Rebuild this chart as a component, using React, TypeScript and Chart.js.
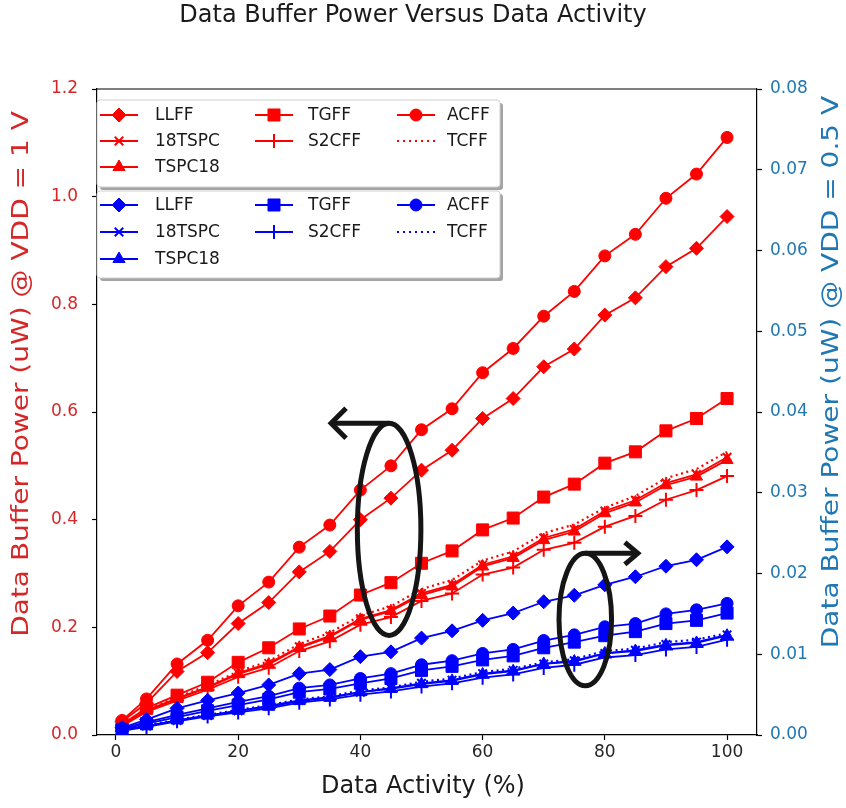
import { useEffect, useRef } from 'react';
import { Chart, registerables } from 'chart.js';
import { drawPoint } from 'chart.js/helpers';

Chart.register(...registerables);

// Data activity (%) at which each flip-flop was simulated
const ACTIVITY = [1, 5, 10, 15, 20, 25, 30, 35, 40, 45, 50, 55, 60, 65, 70, 75, 80, 85, 90, 95, 100];

// Data buffer power (uW) at VDD = 1 V (left axis)
const LLFF_1V = [0.025, 0.059, 0.118, 0.153, 0.207, 0.246, 0.303, 0.341, 0.400, 0.440, 0.492, 0.529, 0.588, 0.625, 0.684, 0.717, 0.780, 0.812, 0.870, 0.904, 0.963];
const TSPC_18_1V = [0.018, 0.046, 0.068, 0.089, 0.115, 0.133, 0.164, 0.184, 0.216, 0.232, 0.263, 0.279, 0.316, 0.332, 0.366, 0.382, 0.416, 0.436, 0.468, 0.484, 0.516];
const TSPC18_1V = [0.018, 0.045, 0.067, 0.088, 0.113, 0.131, 0.162, 0.182, 0.214, 0.230, 0.260, 0.276, 0.313, 0.329, 0.362, 0.378, 0.412, 0.432, 0.464, 0.480, 0.511];
const TGFF_1V = [0.020, 0.050, 0.074, 0.098, 0.135, 0.162, 0.197, 0.221, 0.260, 0.283, 0.319, 0.342, 0.381, 0.403, 0.442, 0.466, 0.505, 0.526, 0.565, 0.588, 0.625];
const S2CFF_1V = [0.017, 0.043, 0.064, 0.084, 0.108, 0.125, 0.156, 0.174, 0.205, 0.219, 0.249, 0.263, 0.298, 0.311, 0.344, 0.357, 0.387, 0.407, 0.437, 0.455, 0.481];
const ACFF_1V = [0.027, 0.067, 0.132, 0.176, 0.240, 0.284, 0.349, 0.390, 0.455, 0.500, 0.567, 0.606, 0.673, 0.718, 0.778, 0.824, 0.890, 0.930, 0.997, 1.042, 1.110];
const TCFF_1V = [0.019, 0.047, 0.070, 0.092, 0.118, 0.137, 0.169, 0.190, 0.222, 0.239, 0.271, 0.288, 0.324, 0.341, 0.375, 0.391, 0.422, 0.444, 0.477, 0.494, 0.526];

// Data buffer power (uW) at VDD = 0.5 V (right axis)
const LLFF_05V = [0.0009, 0.0019, 0.0033, 0.0043, 0.0052, 0.0062, 0.0076, 0.0081, 0.0097, 0.0103, 0.0120, 0.0129, 0.0142, 0.0151, 0.0165, 0.0173, 0.0186, 0.0196, 0.0209, 0.0217, 0.0233];
const TSPC_18_05V = [0.0006, 0.0011, 0.0018, 0.0024, 0.0030, 0.0036, 0.0043, 0.0047, 0.0053, 0.0058, 0.0064, 0.0068, 0.0076, 0.0080, 0.0088, 0.0092, 0.0101, 0.0105, 0.0112, 0.0115, 0.0124];
const TSPC18_05V = [0.0006, 0.0011, 0.0018, 0.0024, 0.0030, 0.0035, 0.0042, 0.0046, 0.0053, 0.0057, 0.0063, 0.0067, 0.0075, 0.0079, 0.0088, 0.0091, 0.0101, 0.0104, 0.0111, 0.0114, 0.0123];
const TGFF_05V = [0.0007, 0.0014, 0.0022, 0.0030, 0.0037, 0.0044, 0.0053, 0.0057, 0.0064, 0.0070, 0.0080, 0.0085, 0.0093, 0.0098, 0.0108, 0.0115, 0.0123, 0.0128, 0.0138, 0.0142, 0.0151];
const S2CFF_05V = [0.0005, 0.0010, 0.0017, 0.0023, 0.0028, 0.0033, 0.0040, 0.0044, 0.0050, 0.0054, 0.0060, 0.0064, 0.0071, 0.0075, 0.0083, 0.0087, 0.0096, 0.0099, 0.0106, 0.0109, 0.0118];
const ACFF_05V = [0.0008, 0.0016, 0.0025, 0.0033, 0.0041, 0.0048, 0.0058, 0.0062, 0.0070, 0.0076, 0.0087, 0.0092, 0.0101, 0.0106, 0.0117, 0.0124, 0.0134, 0.0138, 0.0150, 0.0155, 0.0163];
const TCFF_05V = [0.0006, 0.0012, 0.0019, 0.0025, 0.0031, 0.0037, 0.0044, 0.0048, 0.0055, 0.0059, 0.0066, 0.0070, 0.0078, 0.0082, 0.0090, 0.0094, 0.0104, 0.0107, 0.0115, 0.0118, 0.0126];

// Tick labels
const X_TICKS = [0, 20, 40, 60, 80, 100];
const LEFT_TICKS = [0, 0.2, 0.4, 0.6, 0.8, 1.0, 1.2];
const RIGHT_TICKS = [0, 0.01, 0.02, 0.03, 0.04, 0.05, 0.06, 0.07, 0.08];

// Series names in legend order (column-major, three columns)
const NAMES = ['LLFF', '18TSPC', 'TSPC18', 'TGFF', 'S2CFF', 'ACFF', 'TCFF'];
const VALUES_1V = [LLFF_1V, TSPC_18_1V, TSPC18_1V, TGFF_1V, S2CFF_1V, ACFF_1V, TCFF_1V];
const VALUES_05V = [LLFF_05V, TSPC_18_05V, TSPC18_05V, TGFF_05V, S2CFF_05V, ACFF_05V, TCFF_05V];

const TITLE = 'Data Buffer Power Versus Data Activity';
const X_TITLE = 'Data Activity (%)';
const LEFT_TITLE = 'Data Buffer Power (uW) @ VDD = 1 V';
const RIGHT_TITLE = 'Data Buffer Power (uW) @ VDD = 0.5 V';

// Ellipse callouts grouping each family, with arrows pointing to its axis
const LEFT_RING = { cx: 44.7, cy: 0.382, rx: 5.2, ry: 0.197, tip: 35.2 };
const RIGHT_RING = { cx: 76.8, cy: 0.0143, rx: 4.3, ry: 0.0082, tip: 85.4 };

const RED = '#ff0000';
const BLUE = '#0000ff';
const LEFT_COLOR = '#d62728';
const RIGHT_COLOR = '#1f77b4';
const FONT = '"DejaVu Sans", sans-serif';

type Marker = { style: any; radius: number; stroke: number; dotted?: boolean };
const MARKERS: Record<string, Marker> = {
  LLFF: { style: 'rectRot', radius: 7, stroke: 1 },
  '18TSPC': { style: 'crossRot', radius: 6, stroke: 2 },
  TSPC18: { style: 'triangle', radius: 7, stroke: 1 },
  TGFF: { style: 'rect', radius: 8.5, stroke: 1 },
  S2CFF: { style: 'cross', radius: 7, stroke: 2 },
  ACFF: { style: 'circle', radius: 6, stroke: 1 },
  TCFF: { style: 'circle', radius: 0, stroke: 0, dotted: true },
};

function makeDataset(name: string, values: number[], color: string, axis: string, order: number) {
  const m = MARKERS[name];
  return {
    label: `${name} (${axis === 'y' ? '1 V' : '0.5 V'})`,
    data: ACTIVITY.map((x, i) => ({ x, y: values[i] })),
    yAxisID: axis,
    borderColor: color,
    backgroundColor: color,
    borderWidth: m.dotted ? 2.2 : 1.8,
    borderDash: m.dotted ? [2, 3.5] : [],
    pointStyle: m.style,
    pointRadius: m.radius,
    pointHoverRadius: m.radius,
    pointBorderWidth: m.stroke,
    pointBackgroundColor: color,
    pointBorderColor: color,
    tension: 0,
    fill: false,
    order,
  };
}

function drawLabel(
  ctx: CanvasRenderingContext2D,
  text: string,
  x: number,
  y: number,
  size: number,
  color: string,
  align: CanvasTextAlign,
  vertical = false,
  squish = 1,
) {
  ctx.save();
  ctx.translate(x, y);
  if (vertical) {
    ctx.rotate(-Math.PI / 2);
    ctx.scale(1, squish);
  } else {
    ctx.scale(squish, 1);
  }
  ctx.font = `${size}px ${FONT}`;
  ctx.fillStyle = color;
  ctx.textAlign = align;
  ctx.textBaseline = 'middle';
  ctx.fillText(text, 0, 0);
  ctx.restore();
}

function roundRect(ctx: CanvasRenderingContext2D, x: number, y: number, w: number, h: number, r: number) {
  ctx.beginPath();
  ctx.moveTo(x + r, y);
  ctx.lineTo(x + w - r, y);
  ctx.quadraticCurveTo(x + w, y, x + w, y + r);
  ctx.lineTo(x + w, y + h - r);
  ctx.quadraticCurveTo(x + w, y + h, x + w - r, y + h);
  ctx.lineTo(x + r, y + h);
  ctx.quadraticCurveTo(x, y + h, x, y + h - r);
  ctx.lineTo(x, y + r);
  ctx.quadraticCurveTo(x, y, x + r, y);
  ctx.closePath();
}

function drawLegendBox(ctx: CanvasRenderingContext2D, top: number, color: string, rows: number[]) {
  const left = 97;
  const w = 403;
  const h = 87;
  ctx.save();
  roundRect(ctx, left + 3, top + 3, w, h, 3);
  ctx.fillStyle = 'rgba(90,90,90,0.55)';
  ctx.fill();
  roundRect(ctx, left, top, w, h, 3);
  ctx.fillStyle = '#ffffff';
  ctx.fill();
  ctx.strokeStyle = '#cfcfcf';
  ctx.lineWidth = 1;
  ctx.stroke();

  const columns = [
    { line: 100, text: 155 },
    { line: 255, text: 308 },
    { line: 397, text: 447 },
  ];
  const perColumn = [3, 2, 2];
  let idx = 0;
  columns.forEach((col, c) => {
    for (let r = 0; r < perColumn[c]; r++) {
      const name = NAMES[idx++];
      const m = MARKERS[name];
      const y = rows[r];
      ctx.save();
      ctx.strokeStyle = color;
      ctx.fillStyle = color;
      ctx.lineWidth = m.dotted ? 2.2 : 1.8;
      ctx.setLineDash(m.dotted ? [2, 4] : []);
      ctx.beginPath();
      ctx.moveTo(col.line, y);
      ctx.lineTo(col.line + 38, y);
      ctx.stroke();
      ctx.setLineDash([]);
      if (!m.dotted) {
        ctx.lineWidth = m.stroke;
        drawPoint(ctx, { pointStyle: m.style, radius: m.radius, rotation: 0, borderWidth: m.stroke } as any, col.line + 19, y);
      }
      ctx.restore();
      drawLabel(ctx, name, col.text, y + 1, 17, '#1a1a1a', 'left');
    }
  });
  ctx.restore();
}

const decorations = {
  id: 'decorations',
  afterDatasetsDraw(chart: any) {
    const ctx: CanvasRenderingContext2D = chart.ctx;
    const { x, y, y1 } = chart.scales;
    ctx.save();
    ctx.strokeStyle = '#151515';
    ctx.lineWidth = 5;
    ctx.lineJoin = 'miter';

    const rings = [
      { ring: LEFT_RING, scale: y, head: 15, spread: 15 },
      { ring: RIGHT_RING, scale: y1, head: 13, spread: 11 },
    ];
    rings.forEach(({ ring, scale, head, spread }) => {
      const cx = x.getPixelForValue(ring.cx);
      const cy = scale.getPixelForValue(ring.cy);
      const rx = x.getPixelForValue(ring.cx + ring.rx) - cx;
      const ry = cy - scale.getPixelForValue(ring.cy + ring.ry);
      ctx.beginPath();
      ctx.ellipse(cx, cy, rx, ry, 0, 0, Math.PI * 2);
      ctx.stroke();
      const tip = x.getPixelForValue(ring.tip);
      const ty = cy - ry;
      const dir = tip < cx ? 1 : -1;
      ctx.beginPath();
      ctx.moveTo(cx, ty);
      ctx.lineTo(tip, ty);
      ctx.stroke();
      ctx.beginPath();
      ctx.moveTo(tip + dir * head, ty - spread);
      ctx.lineTo(tip, ty);
      ctx.lineTo(tip + dir * head, ty + spread);
      ctx.stroke();
    });
    ctx.restore();
  },
  afterDraw(chart: any) {
    const ctx: CanvasRenderingContext2D = chart.ctx;
    const { x, y, y1 } = chart.scales;
    const area = chart.chartArea;

    // top spine
    ctx.save();
    ctx.strokeStyle = '#000';
    ctx.lineWidth = 1.2;
    ctx.beginPath();
    ctx.moveTo(area.left, area.top);
    ctx.lineTo(area.right, area.top);
    ctx.stroke();
    ctx.restore();

    // legends
    drawLegendBox(ctx, 100, RED, [115, 141, 167]);
    drawLegendBox(ctx, 191, BLUE, [205, 232, 259]);

    // tick labels
    X_TICKS.forEach((v) => drawLabel(ctx, String(v), x.getPixelForValue(v), area.bottom + 18, 17, '#262626', 'center'));
    LEFT_TICKS.forEach((v) => drawLabel(ctx, v.toFixed(1), area.left - 19, y.getPixelForValue(v), 17, LEFT_COLOR, 'right'));
    RIGHT_TICKS.forEach((v) => drawLabel(ctx, v.toFixed(2), area.right + 13, y1.getPixelForValue(v), 17, RIGHT_COLOR, 'left'));

    // titles
    drawLabel(ctx, TITLE, 413, 16, 24, '#1a1a1a', 'center');
    drawLabel(ctx, X_TITLE, 423, 787, 24, '#1a1a1a', 'center');
    drawLabel(ctx, LEFT_TITLE, 22, 374, 28, LEFT_COLOR, 'center', true, 0.85);
    drawLabel(ctx, RIGHT_TITLE, 832, 372, 28, RIGHT_COLOR, 'center', true, 0.85);
  },
};

const axisLook = {
  grid: { display: true, drawOnChartArea: false, drawTicks: true, tickLength: 5, tickColor: '#000', tickWidth: 1.2 },
  border: { display: true, color: '#000', width: 1.2 },
  ticks: { display: false },
};

export default function App() {
  const canvasRef = useRef<HTMLCanvasElement>(null);

  useEffect(() => {
    const canvas = canvasRef.current;
    if (!canvas) return;
    const datasets = [
      ...NAMES.map((n, i) => makeDataset(n, VALUES_1V[i], RED, 'y', 1)),
      ...NAMES.map((n, i) => makeDataset(n, VALUES_05V[i], BLUE, 'y1', 0)),
    ];
    const chart = new Chart(canvas, {
      type: 'line',
      data: { datasets },
      options: {
        responsive: false,
        animation: false,
        devicePixelRatio: 1,
        layout: { padding: { top: 89, left: 0, right: 0, bottom: 0 } },
        plugins: { legend: { display: false }, title: { display: false }, tooltip: { enabled: false } },
        scales: {
          x: {
            type: 'linear',
            position: 'bottom',
            min: -3.1,
            max: 104.9,
            ...axisLook,
            afterBuildTicks: (s: any) => { s.ticks = X_TICKS.map((value) => ({ value })); },
            afterFit: (s: any) => { s.height = 73; },
          },
          y: {
            type: 'linear',
            position: 'left',
            min: 0,
            max: 1.2,
            ...axisLook,
            afterBuildTicks: (s: any) => { s.ticks = LEFT_TICKS.map((value) => ({ value })); },
            afterFit: (s: any) => { s.width = 97; },
          },
          y1: {
            type: 'linear',
            position: 'right',
            min: 0,
            max: 0.08,
            ...axisLook,
            afterBuildTicks: (s: any) => { s.ticks = RIGHT_TICKS.map((value) => ({ value })); },
            afterFit: (s: any) => { s.width = 89; },
          },
        },
      } as any,
      plugins: [decorations],
    });
    return () => chart.destroy();
  }, []);

  return (
    <div style={{ position: 'fixed', left: 0, top: 0, width: 846, height: 808, background: '#fff' }}>
      <canvas ref={canvasRef} width={846} height={808} style={{ display: 'block', width: 846, height: 808 }} />
    </div>
  );
}
